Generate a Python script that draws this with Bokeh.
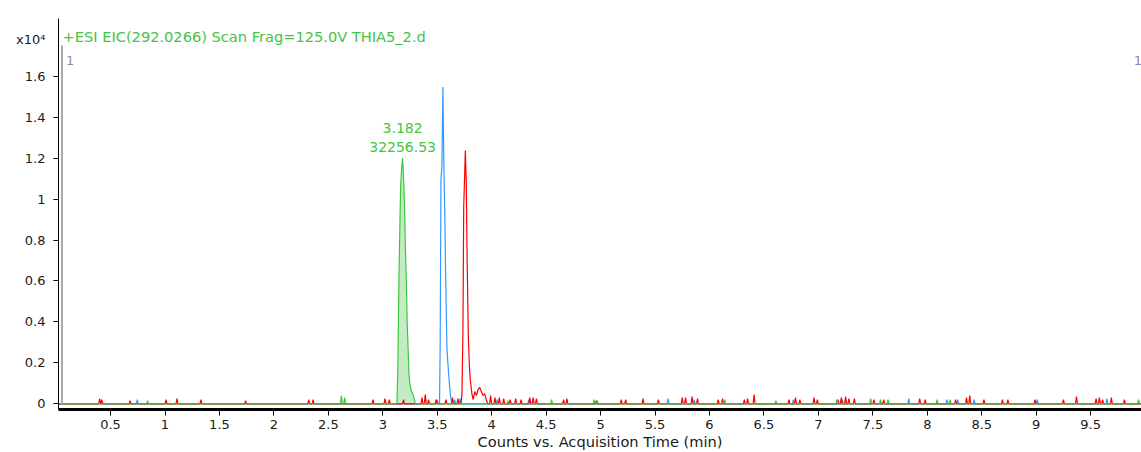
from bokeh.plotting import figure
from bokeh.models import Range1d, FixedTicker, Label
from bokeh.embed import file_html
from bokeh.resources import INLINE

# ---------------- data ----------------
title_text = "+ESI EIC(292.0266) Scan Frag=125.0V THIA5_2.d"
x_axis_title = "Counts vs. Acquisition Time (min)"
y_scale_text = "x10\u2074"
y_scale_pos = 1.78
range_marker_text = "1"

x_ticks = [0.5, 1, 1.5, 2, 2.5, 3, 3.5, 4, 4.5, 5, 5.5, 6, 6.5, 7, 7.5, 8, 8.5, 9, 9.5]
x_tick_labels = ["0.5", "1", "1.5", "2", "2.5", "3", "3.5", "4", "4.5", "5",
                 "5.5", "6", "6.5", "7", "7.5", "8", "8.5", "9", "9.5"]
y_ticks = [0, 0.2, 0.4, 0.6, 0.8, 1, 1.2, 1.4, 1.6]
y_tick_labels = ["0", "0.2", "0.4", "0.6", "0.8", "1", "1.2", "1.4", "1.6"]

t_start = 0.022
t_end = 9.967
marker_t = 0.054
marker_top = 1.75

peak_time_label = "3.182"
peak_area_label = "32256.53"
peak_apex_t = 3.182
peak_apex_h = 1.2

# main peaks (time in min, counts x10^4)
green_peak_t = [3.13, 3.139, 3.148, 3.156, 3.164, 3.173, 3.182, 3.191, 3.2, 3.208,
                3.216, 3.224, 3.231, 3.24, 3.248, 3.262, 3.275, 3.29, 3.30]
green_peak_h = [0, 0.2, 0.6, 0.85, 1.07, 1.15, 1.2, 1.1, 0.95, 0.75,
                0.6, 0.4, 0.29, 0.15, 0.1, 0.06, 0.05, 0.02, 0]

blue_peak_t = [3.521, 3.527, 3.534, 3.543, 3.552, 3.561, 3.570, 3.577, 3.589, 3.604, 3.619, 3.634]
blue_peak_h = [0, 0.3, 1.09, 1.16, 1.547, 1.16, 0.9, 0.63, 0.27, 0.15, 0.05, 0]

red_peak_t = [3.718, 3.727, 3.736, 3.743, 3.749, 3.758, 3.767, 3.773, 3.785, 3.794, 3.803,
              3.818, 3.83, 3.845, 3.86, 3.875, 3.89, 3.905, 3.92, 3.935, 3.95, 3.965]
red_peak_h = [0, 0.05, 0.36, 0.96, 1.07, 1.237, 1.07, 0.76, 0.34, 0.2, 0.12,
              0.05, 0.02, 0.06, 0.04, 0.07, 0.08, 0.06, 0.04, 0.05, 0.02, 0]

# small noise spikes
red_spike_t = [0.40, 0.42, 0.68, 1.01, 1.11, 1.33, 1.74, 2.32, 2.36, 2.91, 3.02, 3.06, 3.19,
               3.36, 3.39, 3.42, 3.49, 3.58, 3.64, 3.69, 3.99, 4.03, 4.07, 4.11, 4.17, 4.22,
               4.27, 4.35, 4.38, 4.41, 4.66, 4.69, 4.96, 5.19, 5.23, 5.39, 5.53, 5.75, 5.78,
               5.84, 5.89, 6.08, 6.12, 6.32, 6.35, 6.41, 6.73, 6.79, 6.83, 6.96, 6.99, 7.18,
               7.21, 7.25, 7.28, 7.33, 7.51, 7.60, 7.93, 7.98, 8.26, 8.36, 8.39, 8.52, 8.69,
               8.74, 8.99, 9.25, 9.37, 9.55, 9.58, 9.61, 9.69, 9.81]
red_spike_h = [0.025, 0.02, 0.015, 0.02, 0.025, 0.02, 0.015, 0.02, 0.02, 0.02, 0.025, 0.02, 0.02,
               0.03, 0.045, 0.02, 0.02, 0.02, 0.03, 0.025, 0.04, 0.03, 0.03, 0.025, 0.02, 0.025,
               0.02, 0.03, 0.03, 0.025, 0.02, 0.025, 0.015, 0.02, 0.02, 0.025, 0.02, 0.03, 0.03,
               0.035, 0.025, 0.02, 0.025, 0.02, 0.025, 0.045, 0.02, 0.03, 0.02, 0.03, 0.02, 0.02,
               0.03, 0.035, 0.025, 0.025, 0.02, 0.02, 0.025, 0.02, 0.02, 0.03, 0.04, 0.02, 0.02,
               0.02, 0.02, 0.02, 0.035, 0.025, 0.03, 0.02, 0.03, 0.02]

blue_spike_t = [0.745, 3.50, 3.66, 3.71, 4.05, 4.34, 5.62, 5.86, 6.77, 7.22, 7.83, 8.18,
                8.28, 8.43, 9.01, 9.65]
blue_spike_h = [0.02, 0.02, 0.02, 0.025, 0.02, 0.02, 0.025, 0.02, 0.02, 0.02, 0.025, 0.02,
                0.02, 0.02, 0.02, 0.025]

green_spike_t = [0.84, 2.62, 2.65, 4.15, 4.55, 4.94, 4.97, 6.14, 6.61, 7.17, 7.48, 7.57,
                 7.64, 8.09, 8.21, 9.94]
green_spike_h = [0.015, 0.04, 0.03, 0.015, 0.02, 0.02, 0.015, 0.02, 0.015, 0.02, 0.025, 0.02,
                 0.02, 0.02, 0.02, 0.02]


def build_trace(peak_t, peak_h, spike_t, spike_h, hw=0.009):
    pts = [(t_start, 0.0), (t_end, 0.0)]
    for t, h in zip(spike_t, spike_h):
        pts += [(t - hw, 0.0), (t, h), (t + hw, 0.0)]
    pts += list(zip(peak_t, peak_h))
    pts.sort(key=lambda q: q[0])
    return [q[0] for q in pts], [q[1] for q in pts]


GREEN = "#3CC83C"
BLUE = "#3399FF"
RED = "#FF0000"
FILL = "#C4ECC4"
FONT = "DejaVu Sans"

p = figure(width=1141, height=452, output_backend="svg", toolbar_location=None,
           x_range=Range1d(t_start, t_end), y_range=Range1d(-0.0278, 1.8818),
           min_border_left=58, min_border_right=0, min_border_top=18, min_border_bottom=43)
p.outline_line_color = None
p.xgrid.visible = False
p.ygrid.visible = False
p.background_fill_color = "white"
p.border_fill_color = "white"

# fill under the labelled peak
p.varea(x=green_peak_t, y1=[0] * len(green_peak_t), y2=green_peak_h, fill_color=FILL, fill_alpha=1.0)

rx, ry = build_trace(red_peak_t, red_peak_h, red_spike_t, red_spike_h)
bx, by = build_trace(blue_peak_t, blue_peak_h, blue_spike_t, blue_spike_h)
gx, gy = build_trace(green_peak_t, green_peak_h, green_spike_t, green_spike_h)
p.line(bx, by, line_color=BLUE, line_width=1.2)
p.line(rx, ry, line_color=RED, line_width=1.2)
p.line(gx, gy, line_color=GREEN, line_width=1.2)

# range marker bar
p.segment(x0=[marker_t], y0=[0], x1=[marker_t], y1=[marker_top], line_color="#A8A8A8", line_width=2)

# x axis
p.xaxis.ticker = FixedTicker(ticks=x_ticks)
p.xaxis.major_label_overrides = {float(k): v for k, v in zip(x_ticks, x_tick_labels)}
p.xaxis.minor_tick_line_color = None
p.xaxis.major_tick_in = 0
p.xaxis.major_tick_out = 6
p.xaxis.major_label_standoff = 4
p.xaxis.axis_line_width = 3
p.xaxis.axis_line_color = "black"
p.xaxis.major_tick_line_color = "black"
p.xaxis.major_label_text_font = FONT
p.xaxis.major_label_text_font_size = "13px"
p.xaxis.major_label_text_color = "#1A1A1A"
p.xaxis.axis_label = x_axis_title
p.xaxis.axis_label_text_font = FONT
p.xaxis.axis_label_text_font_size = "14.6px"
p.xaxis.axis_label_text_font_style = "normal"
p.xaxis.axis_label_text_color = "#1A1A1A"
p.xaxis.axis_label_standoff = 1

# y axis: labelled ticks plus the scale factor label at the top; tick marks drawn as minor ticks
p.yaxis.ticker = FixedTicker(ticks=y_ticks + [y_scale_pos], minor_ticks=y_ticks)
overrides = {float(k): v for k, v in zip(y_ticks, y_tick_labels)}
overrides[float(y_scale_pos)] = y_scale_text
p.yaxis.major_label_overrides = overrides
p.yaxis.major_tick_line_color = None
p.yaxis.major_tick_in = 0
p.yaxis.major_tick_out = 0
p.yaxis.minor_tick_line_color = "black"
p.yaxis.minor_tick_in = 0
p.yaxis.minor_tick_out = 5
p.yaxis.major_label_standoff = 8
p.yaxis.axis_line_width = 1
p.yaxis.axis_line_color = "black"
p.yaxis.major_label_text_font = FONT
p.yaxis.major_label_text_font_size = "13px"
p.yaxis.major_label_text_color = "#1A1A1A"

# texts
p.add_layout(Label(x=0.059, y=1.794, text=title_text, text_font=FONT, text_font_size="14.6px",
                   text_color="#44C444", text_baseline="middle", text_align="left"))
p.add_layout(Label(x=0.09, y=1.70, text=range_marker_text, text_font=FONT, text_font_size="13px",
                   text_color="#8C8CA8", text_baseline="top", text_align="left"))
p.add_layout(Label(x=9.895, y=1.70, text=range_marker_text, text_font=FONT, text_font_size="13px",
                   text_color="#8C8CA8", text_baseline="top", text_align="left"))
p.add_layout(Label(x=peak_apex_t, y=peak_apex_h, y_offset=30, text=peak_time_label, text_font=FONT,
                   text_font_size="14px", text_color=GREEN, text_baseline="middle", text_align="center"))
p.add_layout(Label(x=peak_apex_t, y=peak_apex_h, y_offset=11, text=peak_area_label, text_font=FONT,
                   text_font_size="14px", text_color=GREEN, text_baseline="middle", text_align="center"))

open("out.html", "w").write(file_html(p, INLINE))
